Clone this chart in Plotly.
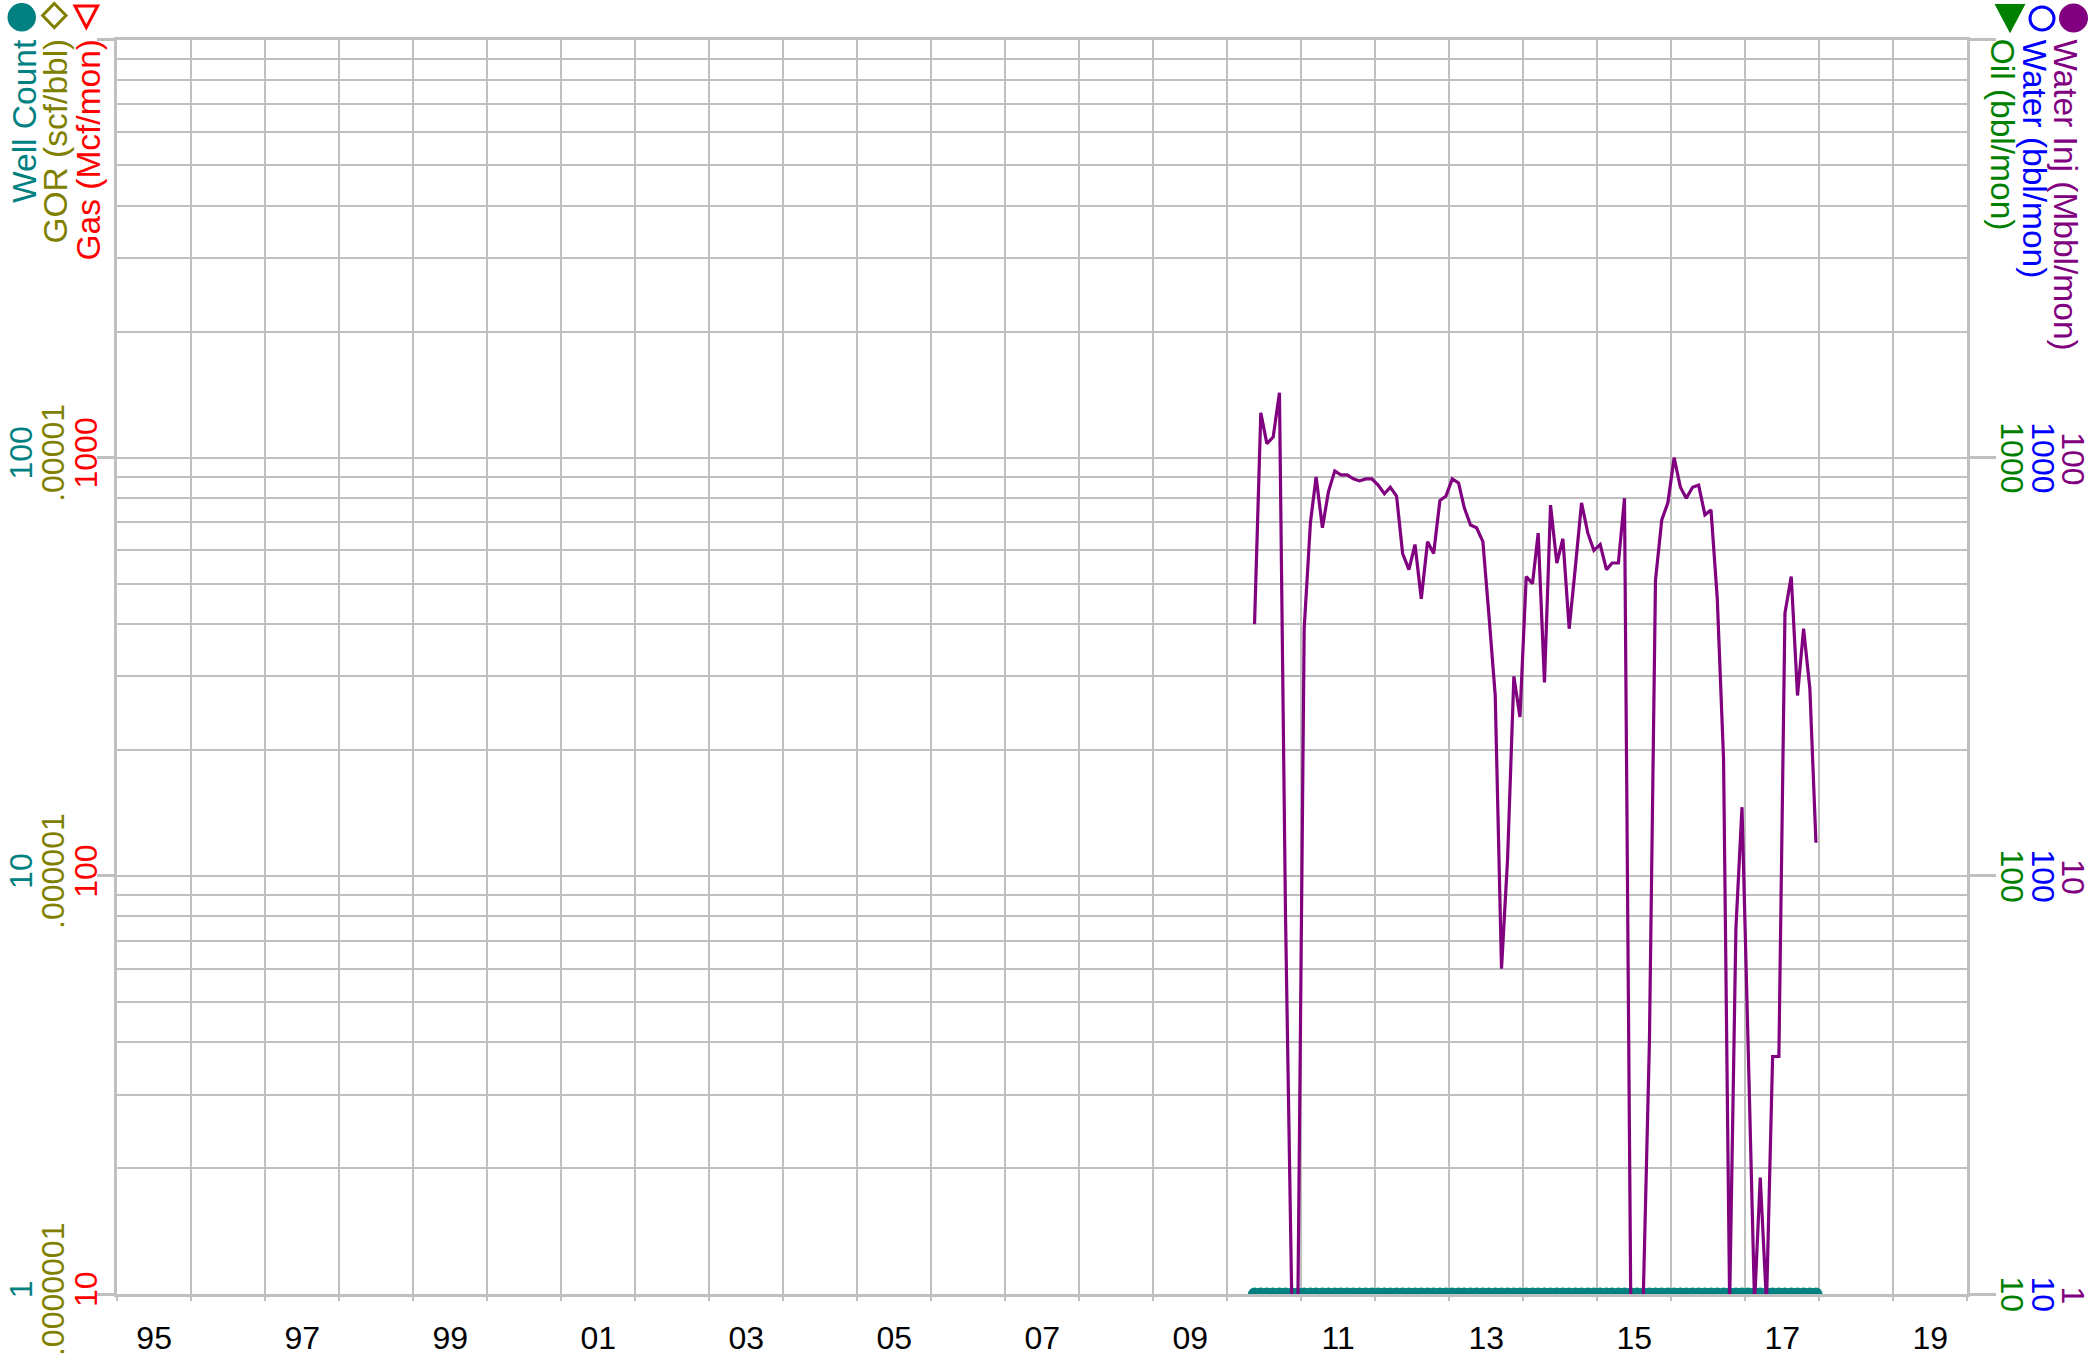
'''
    Well production chart: monthly water injection and well count,
    drawn on six stacked log axes (three on each side).
'''

import pandas as pd
import plotly.graph_objects as go

W, H = 2091, 1367

# Monthly water injection (Mbbl/mon), May 2010 - Dec 2017, 0 = no injection
WATER_INJ_2010 = [40, 128, 108, 112, 143, 8, 0, 0]
WATER_INJ_2011 = [39, 70, 90, 68, 83, 93, 91, 91, 89, 88, 89, 89]
WATER_INJ_2012 = [86, 82, 85, 81, 59, 54, 62, 46, 63, 59, 79, 81]
WATER_INJ_2013 = [89, 87, 76, 69, 68, 63, 42, 27, 6, 11, 30, 24]
WATER_INJ_2014 = [52, 50, 66, 29, 77, 56, 64, 39, 55, 78, 66, 60]
WATER_INJ_2015 = [62, 54, 56, 56, 80, 0, 0, 0, 4, 51, 71, 78]
WATER_INJ_2016 = [100, 85, 80, 85, 86, 73, 75, 46, 19, 0, 7.5, 14.6]
WATER_INJ_2017 = [3.8, 0, 1.9, 0, 3.7, 3.7, 42.5, 52, 27, 39, 28, 12]

WATER_INJ = (WATER_INJ_2010 + WATER_INJ_2011 + WATER_INJ_2012 + WATER_INJ_2013
             + WATER_INJ_2014 + WATER_INJ_2015 + WATER_INJ_2016 + WATER_INJ_2017)

# one producing well in every month of the record
WELL_COUNT = [1] * len(WATER_INJ)

# monthly points sit in the middle of each month
MONTHS = pd.date_range('2010-05-01', periods=len(WATER_INJ), freq='MS') + pd.Timedelta(days=14)

YEAR_LABELS = list(range(1995, 2020, 2))
YEAR_LINES = list(range(1995, 2021))

ZERO_FLOOR = 0.95   # zero months are pushed just below the axis bottom

GRID = '#C0C0C0'
FONT = 'Liberation Sans, Arial, sans-serif'
FSIZE = 32
TITLE_SIZE = 33.5

# plot box in pixels
LEFT, RIGHT, TOP, BOTTOM = 117.3, 1967.3, 39.5, 1294.1


def px_x(x):
    return x / W


def px_y(y):
    return 1 - y / H


fig = go.Figure()

# Gas, GOR, Oil and Water have no reported volumes; empty traces keep their axes alive
for axis in ('y', 'y2', 'y4', 'y5'):
    fig.add_trace(go.Scatter(x=[], y=[], yaxis=axis, mode='lines',
                             hoverinfo='skip', showlegend=False))

fig.add_trace(go.Scatter(
    x=MONTHS, y=WELL_COUNT, yaxis='y3', mode='lines+markers',
    line=dict(color='#008080', width=3),
    marker=dict(size=13, color='#008080'),
    hoverinfo='skip', showlegend=False,
))

fig.add_trace(go.Scatter(
    x=MONTHS, y=[v if v > 0 else ZERO_FLOOR for v in WATER_INJ], yaxis='y6',
    mode='lines', line=dict(color='#800080', width=3.2),
    hoverinfo='skip', showlegend=False,
))


def tick_font(color):
    return dict(family=FONT, size=FSIZE, color=color)


minor_vals = [d * 10 ** e for e in (1, 2, 3) for d in range(2, 10)]

common = dict(type='log', fixedrange=True, automargin=False, zeroline=False,
              tickmode='array', showgrid=False)

fig.update_layout(
    width=W, height=H,
    margin=dict(l=0, r=0, t=0, b=0, pad=0),
    template='none',
    paper_bgcolor='white', plot_bgcolor='white',
    showlegend=False, hovermode=False,
    font=dict(family=FONT, size=FSIZE),
    xaxis=dict(
        type='date', domain=[px_x(LEFT), px_x(RIGHT)], anchor='y',
        range=['1995-01-01', '2020-01-01'], fixedrange=True, automargin=False,
        tickmode='array',
        tickvals=[f'{y}-07-02' for y in YEAR_LABELS],
        ticktext=[f'{y % 100:02d}' for y in YEAR_LABELS],
        ticks='', showgrid=False, tickfont=tick_font('black'),
        ticklabelstandoff=13,
        minor=dict(tickmode='array', tickvals=[f'{y}-01-01' for y in YEAR_LINES],
                   showgrid=True, gridcolor=GRID, gridwidth=2.4,
                   ticks='outside', ticklen=4, tickwidth=2.4, tickcolor=GRID),
        showline=True, linecolor=GRID, linewidth=3, mirror=True,
    ),
    # Gas (Mcf/mon) - base axis, carries the grid
    yaxis=dict(
        common, range=[1, 4], domain=[px_y(BOTTOM), px_y(TOP)],
        side='left', anchor='x',
        tickvals=[10, 100, 1000, 10000], ticktext=['10', '100', '1000', ''],
        tickangle=-90, tickfont=tick_font('#FF0000'), ticklabelstandoff=-12,
        ticks='outside', ticklen=17, tickwidth=3, tickcolor=GRID,
        showline=True, linecolor=GRID, linewidth=3, mirror=True,
        showgrid=True, gridcolor=GRID, gridwidth=2.4,
        minor=dict(tickmode='array', tickvals=minor_vals, showgrid=True,
                   gridcolor=GRID, gridwidth=2.4, ticks=''),
    ),
    # GOR (scf/bbl)
    yaxis2=dict(
        common, range=[-7, -4], overlaying='y', anchor='free', side='left',
        position=px_x(70),
        tickvals=[1e-7, 1e-6, 1e-5], ticktext=['.0000001', '.000001', '.00001'],
        tickangle=-90, tickfont=tick_font('#808000'), ticks='', showline=False,
    ),
    # Well Count
    yaxis3=dict(
        common, range=[0, 3], overlaying='y', anchor='free', side='left',
        position=px_x(38),
        tickvals=[1, 10, 100], ticktext=['1', '10', '100'],
        tickangle=-90, tickfont=tick_font('#008080'), ticks='', showline=False,
    ),
    # Oil (bbl/mon)
    yaxis4=dict(
        common, range=[1, 4], overlaying='y', anchor='x', side='right',
        tickvals=[10, 100, 1000, 10000], ticktext=['10', '100', '1000', ''],
        tickangle=90, tickfont=tick_font('#008000'),
        ticklabelstandoff=-8, ticklabelshift=5,
        ticks='outside', ticklen=28, tickwidth=3, tickcolor=GRID, showline=False,
    ),
    # Water (bbl/mon)
    yaxis5=dict(
        common, range=[1, 4], overlaying='y', anchor='free', side='right',
        position=px_x(2025), ticklabelshift=5,
        tickvals=[10, 100, 1000], ticktext=['10', '100', '1000'],
        tickangle=90, tickfont=tick_font('#0000FF'), ticks='', showline=False,
    ),
    # Water Inj (Mbbl/mon)
    yaxis6=dict(
        common, range=[0, 3], overlaying='y', anchor='free', side='right',
        position=px_x(2055), ticklabelshift=6,
        tickvals=[1, 10, 100], ticktext=['1', '10', '100'],
        tickangle=90, tickfont=tick_font('#800080'), ticks='', showline=False,
    ),
)

# rotated axis titles under the symbol row
TITLES = [
    ('Well Count', '#008080', 24, -90),
    ('GOR (scf/bbl)', '#808000', 55, -90),
    ('Gas (Mcf/mon)', '#FF0000', 87.5, -90),
    ('Oil (bbl/mon)', '#008000', 2003.3, 90),
    ('Water (bbl/mon)', '#0000FF', 2034, 90),
    ('Water Inj (Mbbl/mon)', '#800080', 2065.8, 90),
]
for text, color, x, angle in TITLES:
    fig.add_annotation(
        text=text, x=px_x(x), y=px_y(38), xref='paper', yref='paper',
        xanchor='center', yanchor='top', textangle=angle, showarrow=False,
        font=dict(family=FONT, size=TITLE_SIZE, color=color), borderpad=0,
    )


def paper_path(points):
    parts = [f'{px_x(x):.5f},{px_y(y):.5f}' for x, y in points]
    return 'M' + ' L'.join(parts) + ' Z'


def circle(x0, y0, x1, y1, color, filled):
    fig.add_shape(type='circle', xref='paper', yref='paper',
                  x0=px_x(x0), x1=px_x(x1), y0=px_y(y1), y1=px_y(y0),
                  line=dict(color=color, width=3),
                  fillcolor=color if filled else 'rgba(0,0,0,0)')


def polygon(points, color, filled):
    fig.add_shape(type='path', xref='paper', yref='paper', path=paper_path(points),
                  line=dict(color=color, width=3),
                  fillcolor=color if filled else 'rgba(0,0,0,0)')


# symbol row: Well Count, GOR, Gas on the left; Oil, Water, Water Inj on the right
circle(9, 4.5, 34.5, 30, '#008080', True)
polygon([(54.3, 3.5), (66, 15.5), (54.3, 27.5), (42.6, 15.5)], '#808000', False)
polygon([(75, 6), (97.6, 6), (86.3, 27.5)], '#FF0000', False)
polygon([(1997, 5.5), (2023, 5.5), (2010, 30)], '#008000', True)
circle(2030, 7, 2054, 30, '#0000FF', False)
circle(2060.5, 5, 2086.5, 31, '#800080', True)

fig.write_html('out.html', config={'displayModeBar': False},
               post_script="document.body.style.margin='0';")
